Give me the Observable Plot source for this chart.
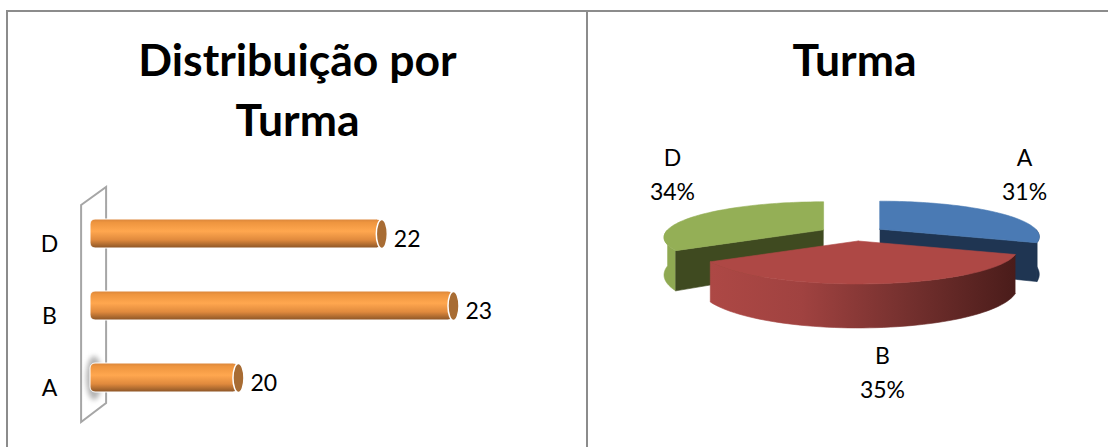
<!DOCTYPE html>
<html lang="pt">
<head>
<meta charset="utf-8">
<script src="https://cdn.jsdelivr.net/npm/d3@7"></script>
<script src="https://cdn.jsdelivr.net/npm/@observablehq/plot@0.6"></script>
<style>
  html, body { margin: 0; padding: 0; background: #fff; }
  #page { position: relative; width: 1108px; height: 447px; overflow: hidden; font-family: Lato, sans-serif; }
  #rule-left { position: absolute; left: 6px; top: 10px; width: 2px; bottom: 0; background: #8c8c8c; }
  #rule-top { position: absolute; left: 6px; top: 10px; height: 2px; right: 0; background: #8c8c8c; }
  #rule-mid { position: absolute; left: 586px; top: 10px; width: 2px; bottom: 0; background: #8c8c8c; }
  #left, #right { position: absolute; top: 0; }
  #left { left: 0; } #right { left: 587px; }
  .glow { filter: blur(2.5px); }
</style>
</head>
<body>
<div id="page">
  <div id="rule-left"></div><div id="rule-top"></div><div id="rule-mid"></div>
  <div id="left"></div><div id="right"></div>
</div>
<script>
// ---- Data ----
const barCategories = ["D", "B", "A"];
const barValues = [22, 23, 20];
const pieCategories = ["A", "B", "D"];
const pieValues = [20, 23, 22];
const leftTitle = "Distribuição por\nTurma";
const rightTitle = "Turma";

const bars = barCategories.map((c, i) => ({c, v: barValues[i]}));

// ---- Left panel: horizontal cylinders ----
const ellipse = (rx, ry) => ({
  draw(ctx) {
    const q = 0.5523;
    ctx.moveTo(0, -ry);
    ctx.bezierCurveTo(rx * q, -ry, rx, -ry * q, rx, 0);
    ctx.bezierCurveTo(rx, ry * q, rx * q, ry, 0, ry);
    ctx.bezierCurveTo(-rx * q, ry, -rx, ry * q, -rx, 0);
    ctx.bezierCurveTo(-rx, -ry * q, -rx * q, -ry, 0, -ry);
    ctx.closePath();
  }
});

const gradient = (id, stops, horizontal) => {
  const g = d3.create("svg:linearGradient").attr("id", id)
    .attr("x1", 0).attr("y1", 0)
    .attr("x2", horizontal ? 1 : 0).attr("y2", horizontal ? 0 : 1);
  stops.forEach(([o, c]) => g.append("stop").attr("offset", o).attr("stop-color", c));
  return g.node();
};

const barDefs = () => {
  const d = d3.create("svg:defs");
  d.append(() => gradient("barGrad", [
    [0, "#d9853a"], [0.12, "#ee953f"], [0.42, "#ffa74f"], [0.72, "#e08a3d"], [1, "#8a5426"]
  ]));
  return d.node();
};

// The thin 3-D wall the bars grow out of, placed from the scales
const wall = (index, {x, y}) => {
  const x0 = x(18), yTop = y("D"), yBottom = y("A");
  const p = d3.path();
  p.moveTo(x0 - 13.5, yTop - 14);
  p.lineTo(x0 + 11.5, yTop - 32);
  p.lineTo(x0 + 11.5, yBottom + 40);
  p.lineTo(x0 - 13.5, yBottom + 59);
  p.closePath();
  return d3.create("svg:path").attr("d", p.toString())
    .attr("fill", "none").attr("stroke", "#a6a6a6").attr("stroke-width", 2).node();
};

const leftPlot = Plot.plot({
  width: 587, height: 447,
  marginLeft: 0, marginRight: 0, marginTop: 0, marginBottom: 0,
  style: {background: "transparent", fontFamily: "Lato, sans-serif", color: "#000"},
  x: {domain: [18, 23], range: [94.6, 453], axis: null},
  y: {domain: barCategories, range: [175.4, 434.6], padding: 0.6},
  marks: [
    barDefs,
    Plot.text([leftTitle], {frameAnchor: "top", lineAnchor: "top", dx: 3.5, dy: 33, fontSize: 44.5, fontWeight: 700, lineHeight: 1.35, fill: "#000"}),
    wall,
    Plot.dot(bars.filter(d => d.c === "A"), {x: () => 18, y: "c", dx: -1, r: 5, symbol: ellipse(8, 22), fill: "#b5b5b5", className: "glow"}),
    Plot.barX(bars, {x1: () => 18, x2: "v", y: "c", fill: "url(#barGrad)", stroke: "#fff", strokeWidth: 1, rx: 5, insetLeft: -4.6}),
    Plot.dot(bars, {x: "v", y: "c", r: 5, symbol: ellipse(5.5, 14.5), fill: "#a86c33", stroke: "#fff", strokeWidth: 1.5}),
    Plot.axisY({anchor: "left", tickSize: 0, tickPadding: 0, dx: 49, dy: 11, textAnchor: "middle", fontSize: 23, fill: "#000", label: null}),
    Plot.text(bars, {x: "v", y: "c", text: d => String(d.v), dx: 12, dy: 6, textAnchor: "start", fontSize: 23, fill: "#000"})
  ]
});
document.getElementById("left").append(leftPlot);

// ---- Right panel: exploded 3-D pie ----
const k = 0.22, m = 0.21, flat = 0.2276, explode = 0.212;
const rad = Math.PI / 180;
const total = d3.sum(pieValues);
const arcs = d3.pie().sort(null)(pieValues);
const depthAt = t => (36 - 8 * Math.cos(t)) / 156;
const onRim = (t) => ({
  x: Math.sin(t) * (1 - k * Math.cos(t)),
  y: -Math.cos(t) * flat * (1 - m * Math.cos(t))
});
const sliceShift = {A: 0, B: 0.016, D: 0};
const slices = arcs.map((a, i) => {
  const mid = (a.startAngle + a.endAngle) / 2;
  const ox = explode * Math.sin(mid) + sliceShift[pieCategories[i]], oy = -explode * flat * Math.cos(mid);
  const at = t => { const r = onRim(t); return {x: r.x + ox, y: r.y + oy, t}; };
  const arcPts = (t0, t1) => d3.range(0, 61).map(j => at(t0 + (t1 - t0) * j / 60));
  const down = p => ({x: p.x, y: p.y + depthAt(p.t)});
  return {name: pieCategories[i], a, apex: {x: ox, y: oy, t: 90 * rad}, at, arcPts, down};
});
const [sA, sB, sD] = slices;
const poly = (pts, fill) => Plot.line(pts, {x: "x", y: "y", fill, stroke: fill, strokeWidth: 0.6});
const wallOf = (s, t0, t1, fill) => {
  const rim = s.arcPts(t0, t1);
  return poly([...rim, ...rim.slice().reverse().map(s.down)], fill);
};
const topFace = (s, fill) => poly([s.apex, ...s.arcPts(s.a.startAngle, s.a.endAngle), s.apex], fill);
const cutFace = (s, t, fill) => poly([s.apex, s.at(t), s.down(s.at(t)), s.down(s.apex)], fill);

const pieDefs = () => {
  const d = d3.create("svg:defs");
  d.append(() => gradient("redSide", [
    [0, "#ad4845"], [0.3, "#a04240"], [0.65, "#74302e"], [1, "#4a1c1a"]
  ], true));
  return d.node();
};

const labelSpots = {A: [1.103, -0.395], B: [0.192, 0.875], D: [-1.154, -0.395]};
const pieLabels = pieCategories.map((c, i) => ({
  c, t: `${c}\n${Math.round(pieValues[i] / total * 100)}%`, x: labelSpots[c][0], y: labelSpots[c][1]
}));

const rightPlot = Plot.plot({
  width: 521, height: 447,
  marginLeft: 0, marginRight: 0, marginTop: 0, marginBottom: 0,
  style: {background: "transparent", fontFamily: "Lato, sans-serif", color: "#000"},
  x: {domain: [-265 / 156, 256 / 156], range: [0, 521], axis: null},
  y: {domain: [-233 / 156, 214 / 156], range: [0, 447], axis: null},
  marks: [
    pieDefs,
    Plot.text([rightTitle], {frameAnchor: "top", lineAnchor: "top", dx: 6.5, dy: 44, fontSize: 44.5, fontWeight: 700, fill: "#000"}),
    wallOf(sA, 90 * rad, sA.a.endAngle, "#1f3552"),
    cutFace(sA, sA.a.endAngle, "#1f3552"),
    topFace(sA, "#4a7ab4"),
    wallOf(sD, sD.a.startAngle, 270 * rad, "#8fa952"),
    cutFace(sD, sD.a.startAngle, "#3f4a20"),
    topFace(sD, "#94af56"),
    wallOf(sB, sB.a.startAngle, sB.a.endAngle, "url(#redSide)"),
    topFace(sB, "#ae4845"),
    Plot.text(pieLabels, {x: "x", y: "y", text: "t", fontSize: 23, lineHeight: 1.48, fill: "#000"})
  ]
});
document.getElementById("right").append(rightPlot);
</script>
</body>
</html>
